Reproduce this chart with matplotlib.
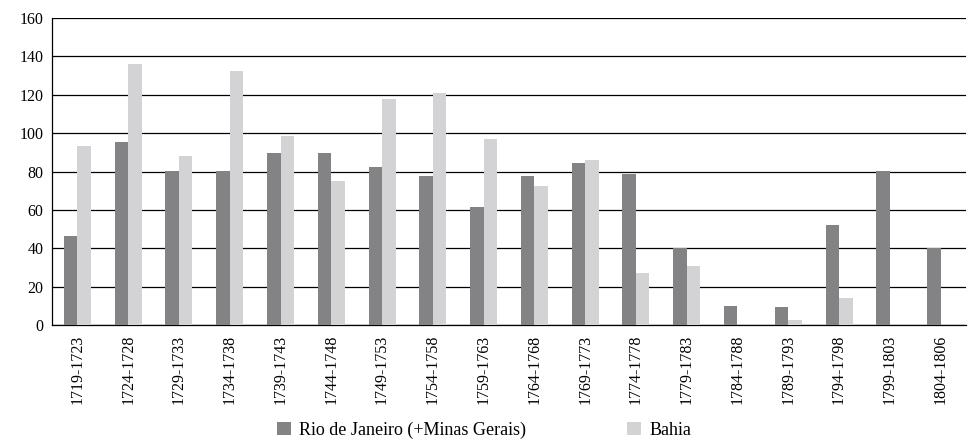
import numpy as np
import matplotlib
matplotlib.use("Agg")
import matplotlib.pyplot as plt

periods = ["1719-1723", "1724-1728", "1729-1733", "1734-1738", "1739-1743",
           "1744-1748", "1749-1753", "1754-1758", "1759-1763", "1764-1768",
           "1769-1773", "1774-1778", "1779-1783", "1784-1788", "1789-1793",
           "1794-1798", "1799-1803", "1804-1806"]
rio = [46.6, 95.6, 80.5, 80.5, 89.8, 89.8, 82.5, 77.8, 61.7, 77.8,
       84.6, 78.9, 40.3, 10.1, 9.6, 52.3, 80.5, 40.3]
bahia = [93.5, 136.2, 88.3, 132.6, 98.7, 75.2, 118.0, 121.1, 97.1, 72.6,
         86.2, 27.3, 30.9, 0, 2.8, 14.2, 0, 0]

plt.rcParams['font.family'] = ['Liberation Serif', 'DejaVu Serif']

fig = plt.figure(figsize=(9.76, 4.42), dpi=100)
ax = fig.add_axes([52 / 976, 1 - 325 / 442, 914 / 976, 307 / 442])

x = np.arange(len(periods))
w = 0.265
ax.bar(x - w / 2, rio, w, color='#838386', label='Rio de Janeiro (+Minas Gerais)', zorder=3)
ax.bar(x + w / 2, bahia, w, color='#d3d3d5', label='Bahia', zorder=3)

ax.set_xlim(-0.5, len(periods) - 0.5)
ax.set_ylim(0, 160)
ax.set_yticks(range(0, 161, 20))
ax.yaxis.grid(True, color='black', linewidth=0.9, zorder=0)
ax.set_axisbelow(True)
ax.set_xticks(x)
ax.set_xticklabels(periods, rotation=90, fontsize=11.5)
ax.tick_params(axis='y', labelsize=11.5, length=0, pad=6)
ax.tick_params(axis='x', length=0, pad=7)
for s in ['top', 'right']:
    ax.spines[s].set_visible(False)
ax.spines['left'].set_linewidth(0.9)
ax.spines['bottom'].set_linewidth(0.9)

fig.legend(loc='center', bbox_to_anchor=(0.496, 0.027), ncol=2, frameon=False,
           fontsize=13, handlelength=0.78, handleheight=0.78, handletextpad=0.45,
           columnspacing=5.6)

fig.savefig('out.png', dpi=100)
